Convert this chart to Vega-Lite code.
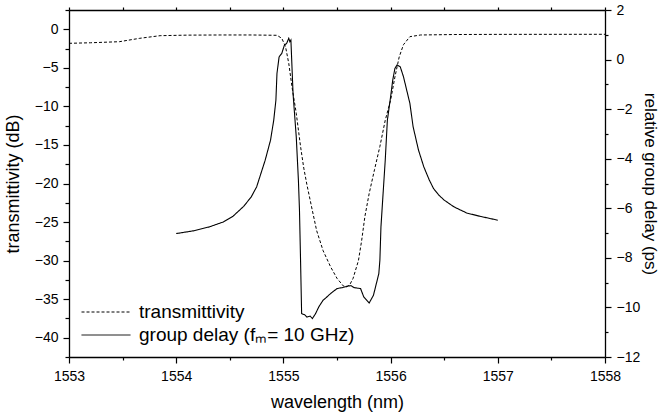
{
  "$schema": "https://vega.github.io/schema/vega-lite/v6.json",
  "width": 536,
  "height": 347,
  "autosize": "none",
  "padding": {"left": 69, "top": 10, "right": 55, "bottom": 58},
  "background": "white",
  "config": {
    "font": "Liberation Sans",
    "view": {"stroke": null},
    "axis": {
      "grid": false,
      "labelFlush": false,
      "labelOverlap": false,
      "domainColor": "black",
      "domainWidth": 1.3,
      "tickColor": "black",
      "tickWidth": 1.2,
      "labelColor": "black",
      "titleColor": "black",
      "labelFont": "Liberation Sans",
      "titleFont": "Liberation Sans",
      "labelFontSize": 14,
      "titleFontSize": 18,
      "titleFontWeight": "normal"
    }
  },
  "datasets": {
    "trans": [
      {"wl": 1553.0, "db": -1.82, "s": "T"},
      {"wl": 1553.2, "db": -1.75, "s": "T"},
      {"wl": 1553.47, "db": -1.61, "s": "T"},
      {"wl": 1553.66, "db": -1.17, "s": "T"},
      {"wl": 1553.85, "db": -0.83, "s": "T"},
      {"wl": 1554.1, "db": -0.76, "s": "T"},
      {"wl": 1554.41, "db": -0.74, "s": "T"},
      {"wl": 1554.7, "db": -0.74, "s": "T"},
      {"wl": 1554.94, "db": -0.78, "s": "T"},
      {"wl": 1554.985, "db": -1.17, "s": "T"},
      {"wl": 1555.02, "db": -2.26, "s": "T"},
      {"wl": 1555.05, "db": -4.42, "s": "T"},
      {"wl": 1555.08, "db": -7.45, "s": "T"},
      {"wl": 1555.12, "db": -10.9, "s": "T"},
      {"wl": 1555.16, "db": -15.2, "s": "T"},
      {"wl": 1555.19, "db": -18.0, "s": "T"},
      {"wl": 1555.22, "db": -20.2, "s": "T"},
      {"wl": 1555.27, "db": -23.5, "s": "T"},
      {"wl": 1555.31, "db": -26.1, "s": "T"},
      {"wl": 1555.37, "db": -28.7, "s": "T"},
      {"wl": 1555.44, "db": -30.8, "s": "T"},
      {"wl": 1555.5, "db": -32.3, "s": "T"},
      {"wl": 1555.56, "db": -33.3, "s": "T"},
      {"wl": 1555.59, "db": -33.4, "s": "T"},
      {"wl": 1555.62, "db": -33.1, "s": "T"},
      {"wl": 1555.65, "db": -32.3, "s": "T"},
      {"wl": 1555.7, "db": -30.0, "s": "T"},
      {"wl": 1555.73, "db": -27.4, "s": "T"},
      {"wl": 1555.76, "db": -24.3, "s": "T"},
      {"wl": 1555.8, "db": -21.3, "s": "T"},
      {"wl": 1555.85, "db": -18.2, "s": "T"},
      {"wl": 1555.9, "db": -15.2, "s": "T"},
      {"wl": 1555.95, "db": -11.8, "s": "T"},
      {"wl": 1556.0, "db": -9.2, "s": "T"},
      {"wl": 1556.04, "db": -6.2, "s": "T"},
      {"wl": 1556.08, "db": -3.6, "s": "T"},
      {"wl": 1556.12, "db": -2.0, "s": "T"},
      {"wl": 1556.18, "db": -0.96, "s": "T"},
      {"wl": 1556.28, "db": -0.74, "s": "T"},
      {"wl": 1556.6, "db": -0.68, "s": "T"},
      {"wl": 1557.0, "db": -0.66, "s": "T"},
      {"wl": 1558.0, "db": -0.65, "s": "T"}
    ],
    "gd": [
      {"wl": 1554.0, "ps": -7.02, "s": "G"},
      {"wl": 1554.16, "ps": -6.91, "s": "G"},
      {"wl": 1554.31, "ps": -6.75, "s": "G"},
      {"wl": 1554.44, "ps": -6.55, "s": "G"},
      {"wl": 1554.53, "ps": -6.32, "s": "G"},
      {"wl": 1554.63, "ps": -5.92, "s": "G"},
      {"wl": 1554.7, "ps": -5.54, "s": "G"},
      {"wl": 1554.75, "ps": -5.14, "s": "G"},
      {"wl": 1554.77, "ps": -4.87, "s": "G"},
      {"wl": 1554.83, "ps": -4.06, "s": "G"},
      {"wl": 1554.88, "ps": -3.25, "s": "G"},
      {"wl": 1554.91, "ps": -2.44, "s": "G"},
      {"wl": 1554.93, "ps": -1.64, "s": "G"},
      {"wl": 1554.94, "ps": -0.56, "s": "G"},
      {"wl": 1554.96, "ps": 0.11, "s": "G"},
      {"wl": 1554.985, "ps": 0.25, "s": "G"},
      {"wl": 1555.01, "ps": 0.59, "s": "G"},
      {"wl": 1555.03, "ps": 0.65, "s": "G"},
      {"wl": 1555.05, "ps": 0.86, "s": "G"},
      {"wl": 1555.06, "ps": 0.72, "s": "G"},
      {"wl": 1555.07, "ps": 0.79, "s": "G"},
      {"wl": 1555.09, "ps": -1.37, "s": "G"},
      {"wl": 1555.12, "ps": -3.12, "s": "G"},
      {"wl": 1555.14, "ps": -4.87, "s": "G"},
      {"wl": 1555.15, "ps": -6.08, "s": "G"},
      {"wl": 1555.16, "ps": -8.1, "s": "G"},
      {"wl": 1555.17, "ps": -10.25, "s": "G"},
      {"wl": 1555.2, "ps": -10.3, "s": "G"},
      {"wl": 1555.22, "ps": -10.39, "s": "G"},
      {"wl": 1555.25, "ps": -10.35, "s": "G"},
      {"wl": 1555.27, "ps": -10.45, "s": "G"},
      {"wl": 1555.3, "ps": -10.25, "s": "G"},
      {"wl": 1555.33, "ps": -9.98, "s": "G"},
      {"wl": 1555.37, "ps": -9.71, "s": "G"},
      {"wl": 1555.4, "ps": -9.6, "s": "G"},
      {"wl": 1555.44, "ps": -9.44, "s": "G"},
      {"wl": 1555.5, "ps": -9.24, "s": "G"},
      {"wl": 1555.55, "ps": -9.2, "s": "G"},
      {"wl": 1555.59, "ps": -9.15, "s": "G"},
      {"wl": 1555.63, "ps": -9.12, "s": "G"},
      {"wl": 1555.66, "ps": -9.2, "s": "G"},
      {"wl": 1555.72, "ps": -9.24, "s": "G"},
      {"wl": 1555.75, "ps": -9.58, "s": "G"},
      {"wl": 1555.8, "ps": -9.82, "s": "G"},
      {"wl": 1555.84, "ps": -9.51, "s": "G"},
      {"wl": 1555.89, "ps": -8.64, "s": "G"},
      {"wl": 1555.9, "ps": -8.1, "s": "G"},
      {"wl": 1555.91, "ps": -6.75, "s": "G"},
      {"wl": 1555.93, "ps": -5.4, "s": "G"},
      {"wl": 1555.95, "ps": -4.06, "s": "G"},
      {"wl": 1555.97, "ps": -2.44, "s": "G"},
      {"wl": 1556.0, "ps": -1.5, "s": "G"},
      {"wl": 1556.02, "ps": -0.83, "s": "G"},
      {"wl": 1556.04, "ps": -0.36, "s": "G"},
      {"wl": 1556.06, "ps": -0.22, "s": "G"},
      {"wl": 1556.09, "ps": -0.29, "s": "G"},
      {"wl": 1556.12, "ps": -0.69, "s": "G"},
      {"wl": 1556.15, "ps": -1.23, "s": "G"},
      {"wl": 1556.18, "ps": -1.77, "s": "G"},
      {"wl": 1556.21, "ps": -2.71, "s": "G"},
      {"wl": 1556.26, "ps": -3.65, "s": "G"},
      {"wl": 1556.31, "ps": -4.33, "s": "G"},
      {"wl": 1556.36, "ps": -4.85, "s": "G"},
      {"wl": 1556.4, "ps": -5.2, "s": "G"},
      {"wl": 1556.45, "ps": -5.47, "s": "G"},
      {"wl": 1556.5, "ps": -5.67, "s": "G"},
      {"wl": 1556.59, "ps": -5.94, "s": "G"},
      {"wl": 1556.71, "ps": -6.19, "s": "G"},
      {"wl": 1556.84, "ps": -6.33, "s": "G"},
      {"wl": 1557.0, "ps": -6.48, "s": "G"}
    ]
  },
  "layer": [
    {
      "data": {"name": "trans"},
      "mark": {"type": "line", "color": "black", "strokeWidth": 1},
      "encoding": {
        "x": {"field": "wl", "type": "quantitative", "scale": {"domain": [1553, 1558], "nice": false, "zero": false},
          "axis": {"orient": "bottom", "values": [1553, 1554, 1555, 1556, 1557, 1558], "format": "d", "tickSize": 6, "labelPadding": 6, "title": "wavelength (nm)", "titlePadding": 10}},
        "y": {"field": "db", "type": "quantitative", "scale": {"domain": [-42.5, 2.5], "nice": false, "zero": false},
          "axis": {"orient": "left", "values": [-40, -35, -30, -25, -20, -15, -10, -5, 0], "tickSize": 6, "labelPadding": 5, "title": "transmittivity (dB)", "titlePadding": 12}},
        "strokeDash": {"field": "s", "type": "nominal", "scale": {"domain": ["T", "G"], "range": [[3, 2], [1, 0]]},
          "legend": {"orient": "none", "legendX": 12, "legendY": 291, "title": null, "symbolType": "stroke", "symbolSize": 2400,
            "symbolStrokeColor": "black", "symbolStrokeWidth": 1, "labelFontSize": 19, "labelFont": "Liberation Sans", "labelColor": "black",
            "labelOffset": 8, "rowPadding": 1, "clipHeight": 22, "labelLimit": 0,
            "labelExpr": "datum.value == 'T' ? 'transmittivity' : 'group delay (fₘ= 10 GHz)'"}}
      }
    },
    {
      "data": {"name": "gd"},
      "mark": {"type": "line", "color": "black", "strokeWidth": 1.1},
      "encoding": {
        "x": {"field": "wl", "type": "quantitative", "scale": {"domain": [1553, 1558], "nice": false, "zero": false}, "axis": null},
        "y": {"field": "ps", "type": "quantitative", "scale": {"domain": [-12, 2], "nice": false, "zero": false},
          "axis": {"orient": "right", "values": [-12, -10, -8, -6, -4, -2, 0, 2], "tickSize": 6, "labelPadding": 5, "title": "relative group delay (ps)", "titlePadding": 1, "titleFontSize": 17}},
        "strokeDash": {"field": "s", "type": "nominal", "scale": {"domain": ["T", "G"], "range": [[3, 2], [1, 0]]}}
      }
    },
    {
      "data": {"name": "trans"},
      "mark": {"type": "line", "opacity": 0},
      "encoding": {
        "x": {"field": "wl", "type": "quantitative", "scale": {"domain": [1553, 1558], "nice": false, "zero": false},
          "axis": {"orient": "bottom", "values": [1553.5, 1554.5, 1555.5, 1556.5, 1557.5], "tickSize": 3, "labels": false, "domain": false, "title": null}},
        "y": {"field": "db", "type": "quantitative", "scale": {"domain": [-42.5, 2.5], "nice": false, "zero": false},
          "axis": {"orient": "left", "values": [-42.5, -37.5, -32.5, -27.5, -22.5, -17.5, -12.5, -7.5, -2.5, 2.5], "tickSize": 4, "labels": false, "domain": false, "title": null}}
      }
    },
    {
      "data": {"name": "gd"},
      "mark": {"type": "line", "opacity": 0},
      "encoding": {
        "x": {"field": "wl", "type": "quantitative", "scale": {"domain": [1553, 1558], "nice": false, "zero": false},
          "axis": {"orient": "top", "values": [1553, 1553.5, 1554, 1554.5, 1555, 1555.5, 1556, 1556.5, 1557, 1557.5, 1558], "tickSize": 3, "labels": false, "domain": true, "title": null}},
        "y": {"field": "ps", "type": "quantitative", "scale": {"domain": [-12, 2], "nice": false, "zero": false},
          "axis": {"orient": "right", "values": [-11, -9, -7, -5, -3, -1, 1], "tickSize": 3, "labels": false, "domain": false, "title": null}}
      }
    }
  ],
  "resolve": {"scale": {"y": "independent"}, "axis": {"x": "independent", "y": "independent"}}
}
